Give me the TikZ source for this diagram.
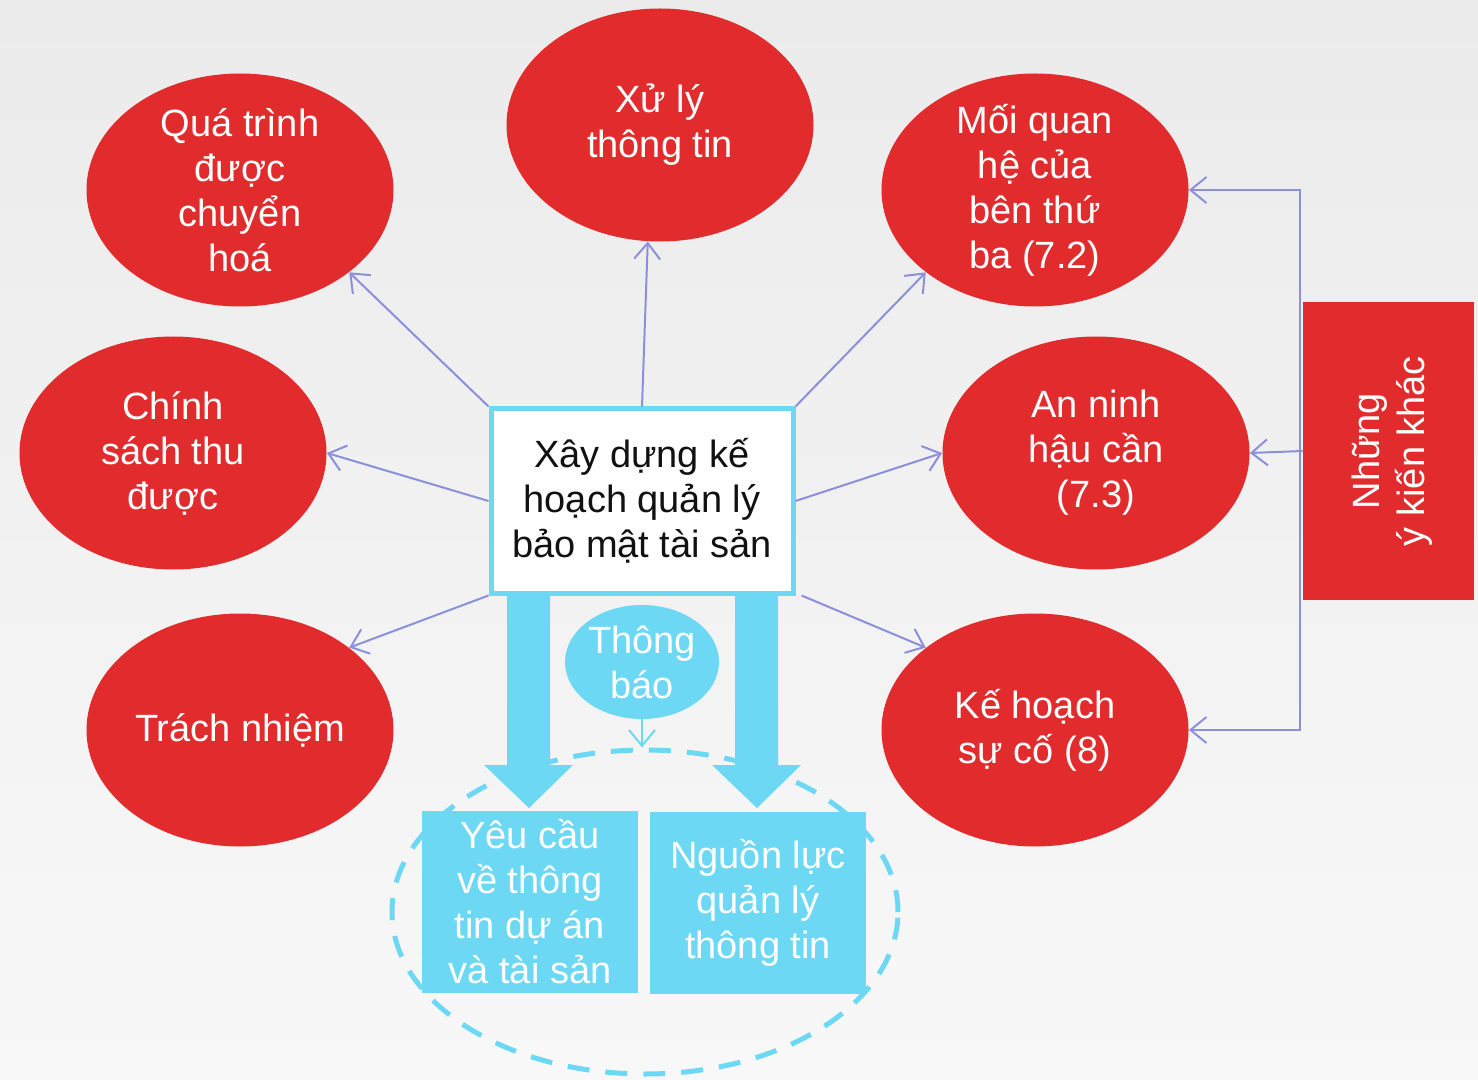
\documentclass[tikz,border=0pt]{standalone}
\usepackage{fontspec}
\setmainfont{Liberation Sans}
\usetikzlibrary{shapes.geometric,arrows.meta}
\definecolor{redc}{HTML}{E12B2C}
\definecolor{cyanc}{HTML}{6DD8F3}
\definecolor{linec}{HTML}{8C90DA}
\definecolor{darktext}{HTML}{111111}
\tikzset{
  bubble/.style={ellipse, fill=redc, text=white, minimum width=153.5pt, minimum height=116.5pt, inner sep=-15pt, align=center, font=\fontsize{19}{22.5}\selectfont},
  conn/.style={draw=linec, line width=1pt, -{Straight Barb[length=8pt,width=13pt]}},
  cbox/.style={rectangle, fill=cyanc, text=white, minimum width=108pt, minimum height=91pt, inner sep=0pt, align=center, font=\fontsize{19}{22.5}\selectfont},
  bigarrow/.style={fill=cyanc}
}
\begin{document}
\begin{tikzpicture}[x=0.5pt,y=-0.5pt]
\useasboundingbox (0,0) rectangle (1478,1080);
\shade[top color={rgb,255:red,235;green,235;blue,235}, bottom color={rgb,255:red,248;green,248;blue,248}] (0,0) rectangle (1478,1080);

% dashed group ellipse
\node[ellipse, draw=cyanc, line width=2.5pt, dash pattern=on 11pt off 8pt, minimum width=253pt, minimum height=162pt, inner sep=0pt] (grp) at (645,912) {};

% red bubbles
\node[bubble] (qua) at (240,190) {Quá trình\\được\\chuyển\\hoá};
\node[bubble] (xuly) at (660,125) {Xử lý\\thông tin};
\node[bubble] (moi) at (1035,190) {Mối quan\\hệ của\\bên thứ\\ba (7.2)};
\node[bubble] (chinh) at (173,453) {Chính\\sách thu\\được};
\node[bubble] (anninh) at (1096,453) {An ninh\\hậu cần\\(7.3)};
\node[bubble] (trach) at (240,730) {Trách nhiệm};
\node[bubble] (ke) at (1035,730) {Kế hoạch\\sự cố (8)};

% center box
\node[rectangle, draw=cyanc, fill=white, line width=2.5pt, minimum width=151pt, minimum height=92pt, inner sep=0pt, align=center, text=darktext, font=\fontsize{19}{22.5}\selectfont] (box) at (642,501) {Xây dựng kế\\hoạch quản lý\\bảo mật tài sản};

% thick arrows
\fill[bigarrow] (507,595) -- (550,595) -- (550,765) -- (573,765) -- (529,808) -- (484,765) -- (507,765) -- cycle;
\fill[bigarrow] (735,595) -- (778,595) -- (778,765) -- (801,765) -- (757,808) -- (712,765) -- (735,765) -- cycle;

% notification
\node[ellipse, fill=cyanc, text=white, minimum width=77pt, minimum height=57pt, inner sep=-10pt, align=center, font=\fontsize{19}{22.5}\selectfont] (thong) at (642,662) {Thông\\báo};
\draw[draw=cyanc, line width=1pt, -{Straight Barb[length=8pt,width=13pt]}] (thong.south) -- (grp.north -| thong.south);

% bottom boxes
\node[cbox] (yeu) at (530,902) {Yêu cầu\\về thông\\tin dự án\\và tài sản};
\node[cbox] (nguon) at (758,903) {Nguồn lực\\quản lý\\thông tin};

% right red rectangle
\node[rectangle, fill=redc, minimum width=85.5pt, minimum height=149pt, inner sep=0pt] (nhung) at (1388.5,451) {};
\node[rotate=90, text=white, align=center, font=\fontsize{19}{22.5}\selectfont] (nhungtxt) at (1392,451) {Những\\ý kiến khác};

% connectors from center box
\draw[conn] (box.north west) -- (qua.-37);
\draw[conn] (box.north) -- (xuly.-96);
\draw[conn] (box.north east) -- (moi.-143);
\draw[conn] (box.west) -- (chinh.east);
\draw[conn] (box.east) -- (anninh.west);
\draw[conn] (box.south west) -- (trach.37);
\draw[conn] ([xshift=3pt]box.south east) -- (ke.143);

% bracket from right rectangle
\coordinate (bx) at (1300,452);
\draw[conn] (bx) |- (moi.east);
\draw[conn] (bx) |- (ke.east);
\draw[conn] (nhung.west) -- (anninh.east);
\end{tikzpicture}
\end{document}
